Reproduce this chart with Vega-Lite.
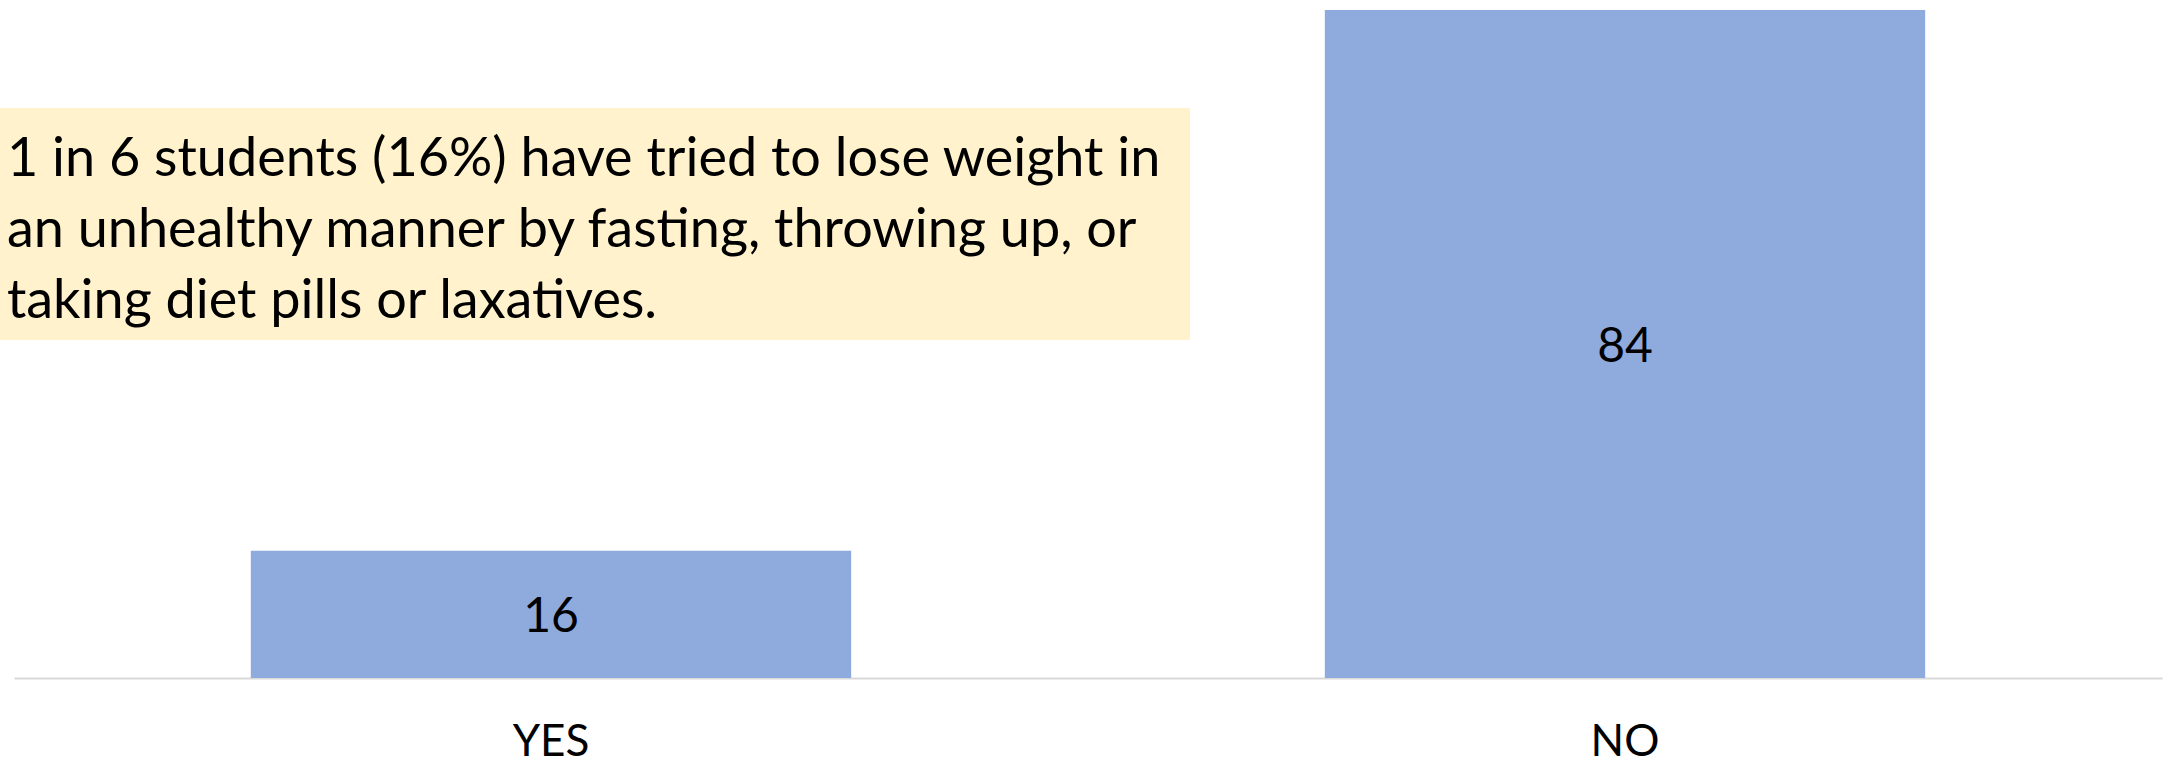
{
  "$schema": "https://vega.github.io/schema/vega-lite/v6.json",
  "autosize": {"type": "none"},
  "padding": {"left": 14, "top": 0, "right": 8, "bottom": 87},
  "width": 2148,
  "height": 678,
  "background": "white",
  "config": {"view": {"stroke": null}, "font": "Lato"},
  "datasets": {
    "bars": [
      {"answer": "YES", "value": 16},
      {"answer": "NO", "value": 84}
    ],
    "note": [
      {"left": -0.652, "right": 54.75, "textx": -0.33, "bottom": 42.5, "top": 71.68, "firstline": 65.1,
       "label": ["1 in 6 students (16%) have tried to lose weight in", "an unhealthy manner by fasting, throwing up, or", "taking diet pills or laxatives."]}
    ]
  },
  "layer": [
    {
      "data": {"name": "bars"},
      "mark": {"type": "bar", "color": "#8FAADC", "width": {"band": 0.559}},
      "encoding": {
        "x": {"field": "answer", "type": "nominal", "sort": ["YES", "NO"],
              "scale": {"paddingInner": 0, "paddingOuter": 0},
              "axis": {"title": null, "domainColor": "#D9D9D9", "domainWidth": 2, "ticks": false, "labelAngle": 0,
                       "labelFontSize": 44, "labelColor": "#000000", "labelPadding": 64, "labelBaseline": "middle", "labelFont": "Lato"}},
        "y": {"field": "value", "type": "quantitative", "scale": {"domain": [0, 85.26], "nice": false, "zero": true}, "axis": null}
      }
    },
    {
      "data": {"name": "bars"},
      "mark": {"type": "text", "fontSize": 48, "color": "#000000", "baseline": "middle", "align": "center", "dy": 4},
      "encoding": {
        "x": {"field": "answer", "type": "nominal", "sort": ["YES", "NO"], "axis": null},
        "y": {"field": "value", "type": "quantitative", "scale": {"domain": [0, 170.52], "nice": false}, "axis": null},
        "text": {"field": "value", "type": "quantitative"}
      }
    },
    {
      "data": {"name": "note"},
      "layer": [
        {
          "mark": {"type": "rect", "color": "#FFF2CC"},
          "encoding": {
            "x": {"field": "left", "type": "quantitative", "scale": {"domain": [0, 100], "nice": false, "zero": false}, "axis": null},
            "x2": {"field": "right"},
            "y": {"field": "bottom", "type": "quantitative", "scale": {"domain": [0, 85.26], "nice": false}, "axis": null},
            "y2": {"field": "top"}
          }
        },
        {
          "mark": {"type": "text", "fontSize": 54, "lineHeight": 71, "align": "left", "baseline": "middle", "color": "#000000"},
          "encoding": {
            "x": {"field": "textx", "type": "quantitative", "scale": {"domain": [0, 100], "nice": false, "zero": false}, "axis": null},
            "y": {"field": "firstline", "type": "quantitative", "scale": {"domain": [0, 85.26], "nice": false}, "axis": null},
            "text": {"field": "label"}
          }
        }
      ]
    }
  ],
  "resolve": {"scale": {"x": "independent", "y": "independent"}}
}
